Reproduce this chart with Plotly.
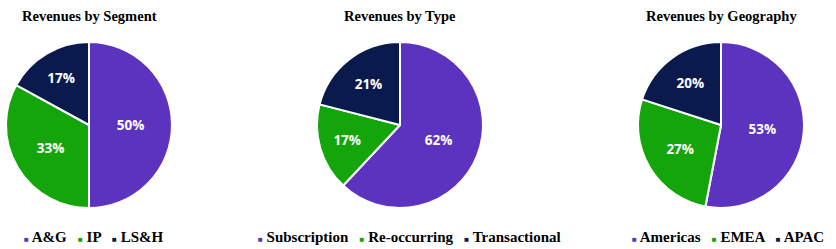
import plotly.graph_objects as go

W, H = 836, 249

titles = ["Revenues by Segment", "Revenues by Type", "Revenues by Geography"]

seg_labels = ["A&G", "IP", "LS&H"]
seg_values = [50, 33, 17]

type_labels = ["Subscription", "Re-occurring", "Transactional"]
type_values = [62, 17, 21]

geo_labels = ["Americas", "EMEA", "APAC"]
geo_values = [53, 27, 20]

colors = ["#5C33BE", "#14A50A", "#0B1A4D"]

centers_px = [89, 400, 721]
title_centers_px = [89, 400, 721]
radius_px = 83
center_y_px = 125

fig = go.Figure()

datasets = [(seg_labels, seg_values), (type_labels, type_values), (geo_labels, geo_values)]
for (labels, values), cx in zip(datasets, centers_px):
    fig.add_trace(go.Pie(
        labels=labels, values=values, sort=False, direction="clockwise", rotation=0,
        marker=dict(colors=colors, line=dict(color="white", width=2)),
        textinfo="percent", texttemplate="%{percent:.0%}",
        textposition="inside", insidetextorientation="horizontal",
        textfont=dict(family="Open Sans", size=13.5, color="white", weight="bold"),
        domain=dict(x=[(cx - radius_px) / W, (cx + radius_px) / W],
                    y=[1 - (center_y_px + radius_px) / H, 1 - (center_y_px - radius_px) / H]),
        showlegend=False, hoverinfo="label+percent",
    ))

annotations = []
for t, cx in zip(titles, title_centers_px):
    annotations.append(dict(text=t, x=cx / W, y=1 - 16 / H, xref="paper", yref="paper",
                            showarrow=False, xanchor="center", yanchor="middle",
                            font=dict(family="Liberation Serif", size=14.5, color="black", weight="bold")))

# legend rows built from labels: (anchor x px, xanchor)
legend_pos = [(22, "left"), (409, "center"), (826, "right")]
for (labels, _), (lx, anch) in zip(datasets, legend_pos):
    parts = []
    for lab, col in zip(labels, colors):
        parts.append('<span style="color:%s;font-size:8px">■</span> %s' % (col, lab.replace("&", "&amp;")))
    annotations.append(dict(text="   ".join(parts), x=lx / W, y=1 - 237 / H, xref="paper", yref="paper",
                            showarrow=False, xanchor=anch, yanchor="middle",
                            font=dict(family="Liberation Serif", size=15, color="black", weight="bold")))

fig.update_layout(width=W, height=H, margin=dict(l=0, r=0, t=0, b=0),
                  paper_bgcolor="white", plot_bgcolor="white", annotations=annotations)

fig.write_html("out.html")
